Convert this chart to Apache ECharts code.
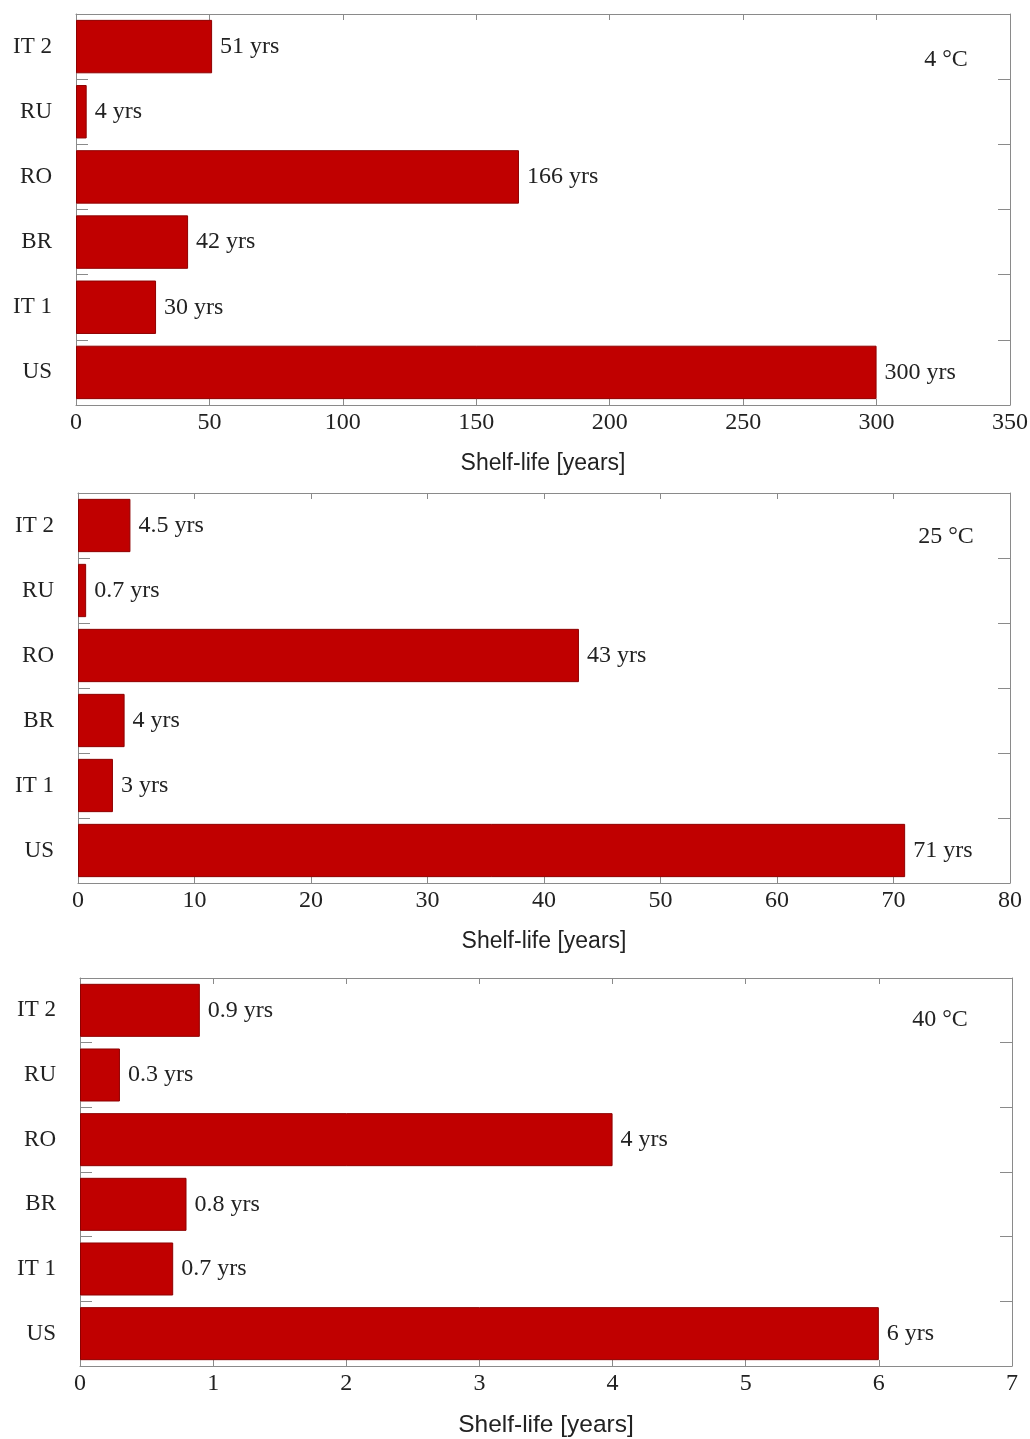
<!DOCTYPE html>
<html>
<head>
<meta charset="utf-8">
<script src="https://cdn.jsdelivr.net/npm/echarts@6/dist/echarts.min.js"></script>
<style>
  html, body { margin: 0; padding: 0; background: #fff; }
  #chart { width: 1030px; height: 1439px; }
</style>
</head>
<body>
<div id="chart"></div>
<script>
// Sample origins, listed top to bottom
const categories = ['IT 2', 'RU', 'RO', 'BR', 'IT 1', 'US'];

// Estimated shelf-life in years at each storage temperature
const shelf4C  = [51, 4, 166, 42, 30, 300];
const shelf25C = [4.5, 0.7, 43, 4, 3, 71];
const shelf40C = [0.9, 0.3, 4, 0.8, 0.7, 6];

const temperatures = ['4 °C', '25 °C', '40 °C'];
const axisMax = [350, 80, 7];
const axisStep = [50, 10, 1];
const axisTitle = 'Shelf-life [years]';

const seriesData = [shelf4C, shelf25C, shelf40C];

const SERIF = '"Liberation Serif", "DejaVu Serif", serif';
const SANS = '"Liberation Sans", Arial, sans-serif';
const FRAME = '#8a8a8a';
const BAR = '#c00000';
const TEXT = '#222';

const grids = [
  { left: 76, right: 20, top: 14, height: 391, outerBoundsMode: 'none' },
  { left: 78, right: 20, top: 493, height: 390, outerBoundsMode: 'none' },
  { left: 80, right: 18, top: 978, height: 388, outerBoundsMode: 'none' }
];
const titleSizes = [23, 23, 24.5];
const tempPos = [[946, 60], [946, 537], [940, 1020]];

const xAxes = [], yAxes = [], series = [], graphics = [];

grids.forEach((g, i) => {
  // bottom value axis with tick labels and title
  xAxes.push({
    type: 'value', gridIndex: i, position: 'bottom',
    min: 0, max: axisMax[i], interval: axisStep[i],
    name: axisTitle, nameLocation: 'middle', nameGap: 47,
    nameTextStyle: { fontFamily: SANS, fontSize: titleSizes[i], color: TEXT },
    axisLine: { show: true, onZero: false, lineStyle: { color: FRAME, width: 1 } },
    axisTick: { show: true, inside: true, length: 6, lineStyle: { color: FRAME } },
    axisLabel: { fontFamily: SERIF, fontSize: 24, color: TEXT, margin: 6 },
    splitLine: { show: false }
  });
  // top mirror axis closing the frame
  xAxes.push({
    type: 'value', gridIndex: i, position: 'top',
    min: 0, max: axisMax[i], interval: axisStep[i],
    axisLine: { show: true, onZero: false, lineStyle: { color: FRAME, width: 1 } },
    axisTick: { show: true, inside: true, length: 6, lineStyle: { color: FRAME } },
    axisLabel: { show: false },
    splitLine: { show: false }
  });
  // left category axis
  yAxes.push({
    type: 'category', gridIndex: i, position: 'left', inverse: true,
    data: categories,
    axisLine: { show: true, onZero: false, lineStyle: { color: FRAME, width: 1 } },
    axisTick: { show: true, inside: true, length: 12, lineStyle: { color: FRAME } },
    axisLabel: { fontFamily: SERIF, fontSize: 23, color: TEXT, margin: 24 }
  });
  // right mirror axis closing the frame
  yAxes.push({
    type: 'category', gridIndex: i, position: 'right', inverse: true,
    data: categories,
    axisLine: { show: true, onZero: false, lineStyle: { color: FRAME, width: 1 } },
    axisTick: { show: true, inside: true, length: 12, lineStyle: { color: FRAME } },
    axisLabel: { show: false }
  });
  series.push({
    type: 'bar',
    xAxisIndex: i * 2, yAxisIndex: i * 2,
    data: seriesData[i],
    barCategoryGap: '18%',
    itemStyle: { color: BAR, borderColor: '#8e0000', borderWidth: 1 },
    label: {
      show: true, position: 'right', distance: 8,
      fontFamily: SERIF, fontSize: 24, color: TEXT,
      formatter: p => p.value + ' yrs'
    },
    silent: true, animation: false
  });
  graphics.push({
    type: 'text',
    x: tempPos[i][0], y: tempPos[i][1],
    style: {
      text: temperatures[i], font: '24px ' + SERIF, fill: TEXT,
      textAlign: 'center', textVerticalAlign: 'middle'
    }
  });
});

const chart = echarts.init(document.getElementById('chart'), null, { renderer: 'canvas' });
chart.setOption({
  backgroundColor: '#ffffff',
  animation: false,
  grid: grids,
  xAxis: xAxes,
  yAxis: yAxes,
  series: series,
  graphic: graphics
});
</script>
</body>
</html>
